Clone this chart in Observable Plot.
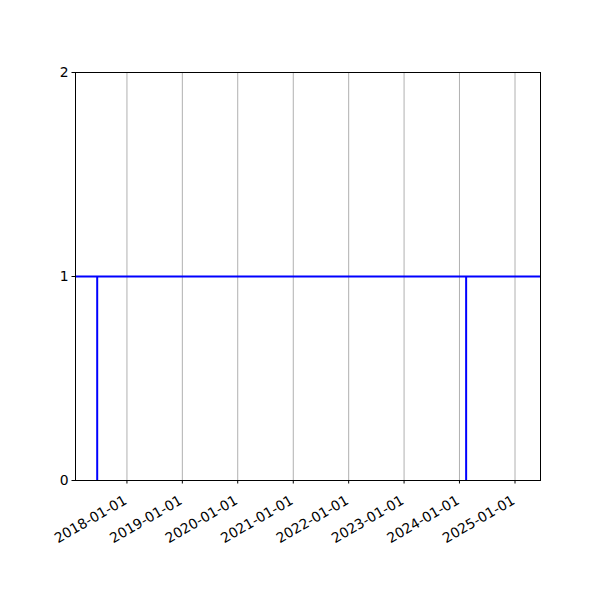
<!DOCTYPE html>
<html>
<head>
<meta charset="utf-8">
<script src="https://cdn.jsdelivr.net/npm/d3@7"></script>
<script src="https://cdn.jsdelivr.net/npm/@observablehq/plot@0.6"></script>
<style>
  html, body { margin: 0; padding: 0; background: #fff; }
</style>
</head>
<body>
<div id="chart"></div>
<script>
// Data
const eventDates = ["2017-06-19", "2024-02-14"];
const eventValues = [1, 1];
const levelValue = [1];
const xTickLabels = ["2018-01-01", "2019-01-01", "2020-01-01", "2021-01-01",
                     "2022-01-01", "2023-01-01", "2024-01-01", "2025-01-01"];
const yTicks = [0, 1, 2];
const xDomain = ["2017-01-27", "2025-06-18"];
const yDomain = [0, 2];

const parse = d3.utcParse("%Y-%m-%d");
const events = eventDates.map((d, i) => ({date: parse(d), value: eventValues[i]}));
const xTickDates = xTickLabels.map(parse);

const plot = Plot.plot({
  width: 600,
  height: 600,
  marginLeft: 75,
  marginRight: 60,
  marginTop: 72,
  marginBottom: 120,
  style: {fontFamily: "DejaVu Sans", fontSize: "13.9px", color: "black", background: "white"},
  x: {type: "utc", domain: xDomain.map(parse)},
  y: {domain: yDomain},
  marks: [
    Plot.gridX(xTickDates, {stroke: "#b0b0b0", strokeOpacity: 1, strokeWidth: 1}),
    Plot.ruleY(levelValue, {stroke: "blue", strokeWidth: 2}),
    Plot.ruleX(events, {x: "date", y1: 0, y2: "value", stroke: "blue", strokeWidth: 2}),
    Plot.frame({stroke: "black", strokeWidth: 1}),
    Plot.axisY({ticks: yTicks, tickSize: 3.5, tickPadding: 3.5, tickFormat: d3.format("d"), label: null, strokeWidth: 1}),
    Plot.axisX({ticks: xTickDates, tickSize: 3.5, tickFormat: () => "", label: null, strokeWidth: 1}),
    Plot.text(xTickLabels, {
      x: d => parse(d),
      frameAnchor: "bottom",
      text: d => d,
      rotate: -30,
      textAnchor: "end",
      lineAnchor: "top",
      dx: -4,
      dy: 14,
      fill: "black"
    })
  ]
});
document.getElementById("chart").appendChild(plot);
</script>
</body>
</html>
